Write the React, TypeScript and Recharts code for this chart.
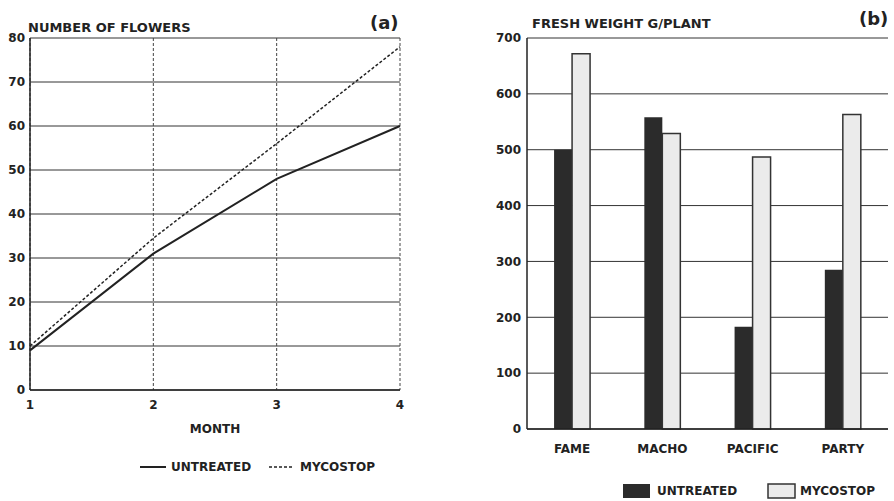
import React from 'react';
import { LineChart, Line, BarChart, Bar, XAxis, YAxis, CartesianGrid } from 'recharts';

const months = [1, 2, 3, 4];
const flowersUntreated = [9, 31, 48, 60];
const flowersMycostop = [10, 34.5, 56, 78];
const flowerTicks = [0, 10, 20, 30, 40, 50, 60, 70, 80];

const cultivars = ['FAME', 'MACHO', 'PACIFIC', 'PARTY'];
const weightUntreated = [500, 558, 183, 285];
const weightMycostop = [672, 529, 487, 563];
const weightTicks = [0, 100, 200, 300, 400, 500, 600, 700];

const FONT = '"DejaVu Sans", sans-serif';
const INK = '#222';

const lineData = months.map((m, i) => ({ month: m, untreated: flowersUntreated[i], mycostop: flowersMycostop[i] }));
const barData = cultivars.map((c, i) => ({ name: c, untreated: weightUntreated[i], mycostop: weightMycostop[i] }));

const tickStyle = { fill: INK, fontWeight: 700, fontSize: 12, fontFamily: FONT };
const textStyle: React.CSSProperties = { fill: INK, fontWeight: 700, fontFamily: FONT } as any;

export default function App() {
  return (
    <div style={{ position: 'absolute', left: 0, top: 0, width: 894, height: 501, background: '#fff', overflow: 'hidden' }}>
      <div style={{ position: 'absolute', left: 0, top: 0 }}>
        <LineChart width={450} height={501} data={lineData} margin={{ top: 38, right: 50, left: 0, bottom: 66 }}>
          <CartesianGrid vertical={false} stroke="#333" strokeWidth={1} />
          <CartesianGrid horizontal={false} stroke="#444" strokeDasharray="3 2" strokeWidth={1} />
          <XAxis
            dataKey="month"
            type="number"
            domain={[1, 4]}
            ticks={months}
            height={45}
            tickSize={0}
            tickMargin={10}
            tick={tickStyle}
            axisLine={{ stroke: INK, strokeWidth: 1.5 }}
            label={{ value: 'MONTH', position: 'insideBottom', offset: 2, style: { ...tickStyle, fontSize: 12 } }}
          />
          <YAxis
            domain={[0, 80]}
            ticks={flowerTicks}
            width={30}
            tickSize={0}
            tickMargin={5}
            tick={tickStyle}
            axisLine={{ stroke: INK, strokeWidth: 1.5 }}
            interval={0}
          />
          <YAxis yAxisId="r" orientation="right" domain={[0, 80]} width={0} tick={false} tickLine={false} axisLine={{ stroke: INK, strokeWidth: 1.5 }} />
          <Line dataKey="untreated" stroke={INK} strokeWidth={2} dot={false} isAnimationActive={false} />
          <Line dataKey="mycostop" stroke={INK} strokeWidth={1.5} strokeDasharray="3 2" dot={false} isAnimationActive={false} />
        </LineChart>
      </div>
      <div style={{ position: 'absolute', left: 450, top: 0 }}>
        <BarChart width={444} height={501} data={barData} margin={{ top: 38, right: 6, left: 0, bottom: 42 }} barCategoryGap="30%" barGap={0}>
          <CartesianGrid vertical={false} stroke="#333" strokeWidth={1} />
          <XAxis
            dataKey="name"
            height={30}
            tickSize={0}
            tickMargin={15}
            tick={tickStyle}
            axisLine={{ stroke: INK, strokeWidth: 1.5 }}
          />
          <YAxis
            domain={[0, 700]}
            ticks={weightTicks}
            width={77}
            tickSize={0}
            tickMargin={6}
            tick={tickStyle}
            axisLine={{ stroke: INK, strokeWidth: 1.5 }}
            interval={0}
          />
          <YAxis yAxisId="r" orientation="right" domain={[0, 700]} width={0} tick={false} tickLine={false} axisLine={{ stroke: INK, strokeWidth: 1.5 }} />
          <Bar dataKey="untreated" fill="#2b2b2b" isAnimationActive={false} />
          <Bar dataKey="mycostop" fill="#ebebeb" stroke="#333" strokeWidth={1.5} isAnimationActive={false} />
        </BarChart>
      </div>
      <svg width={894} height={501} style={{ position: 'absolute', left: 0, top: 0, pointerEvents: 'none' }}>
        <text x={28} y={27} dominantBaseline="central" style={{ ...textStyle, fontSize: 13 } as any}>NUMBER OF FLOWERS</text>
        <text x={370} y={22} dominantBaseline="central" style={{ ...textStyle, fontSize: 18 } as any}>(a)</text>
        <text x={532} y={23} dominantBaseline="central" style={{ ...textStyle, fontSize: 13 } as any}>FRESH WEIGHT G/PLANT</text>
        <text x={859} y={18} dominantBaseline="central" style={{ ...textStyle, fontSize: 18 } as any}>(b)</text>

        <line x1={140} x2={166} y1={467} y2={467} stroke={INK} strokeWidth={2} />
        <text x={171} y={467} dominantBaseline="central" style={{ ...textStyle, fontSize: 12 } as any}>UNTREATED</text>
        <line x1={269} x2={294} y1={467} y2={467} stroke={INK} strokeWidth={1.5} strokeDasharray="3 2" />
        <text x={300} y={467} dominantBaseline="central" style={{ ...textStyle, fontSize: 12 } as any}>MYCOSTOP</text>

        <rect x={623} y={484} width={27} height={14} fill="#2b2b2b" />
        <text x={657} y={491} dominantBaseline="central" style={{ ...textStyle, fontSize: 12 } as any}>UNTREATED</text>
        <rect x={768} y={484} width={27} height={14} fill="#ebebeb" stroke="#333" strokeWidth={1.5} />
        <text x={800} y={491} dominantBaseline="central" style={{ ...textStyle, fontSize: 12 } as any}>MYCOSTOP</text>
      </svg>
    </div>
  );
}
